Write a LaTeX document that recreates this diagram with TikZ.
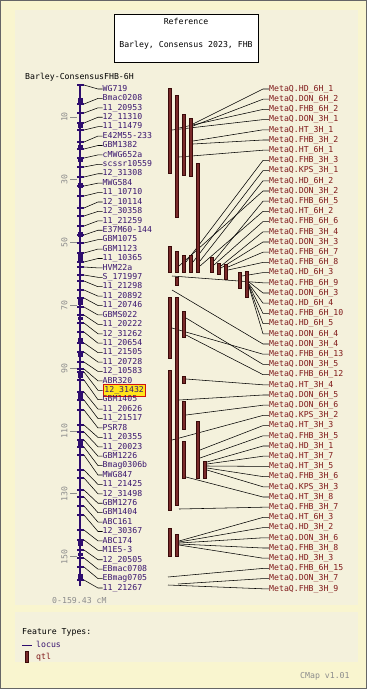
\documentclass[tikz,border=0pt]{standalone}
\usepackage{fontspec}
\newfontfamily\pixfont{DejaVu Sans Mono}
\definecolor{outerbg}{HTML}{F9F5CF}
\definecolor{innerbg}{HTML}{F4F1DC}
\definecolor{chromc}{HTML}{2E0D6E}
\definecolor{lablc}{HTML}{3A1670}
\definecolor{qtlc}{HTML}{7A2A2A}
\definecolor{qtld}{HTML}{3A0A0A}
\definecolor{qlabc}{HTML}{801A1A}
\definecolor{axisc}{HTML}{8C8C8C}
\definecolor{hiy}{HTML}{FFE51A}
\definecolor{hir}{HTML}{D01010}
\begin{document}
\begin{tikzpicture}[x=1pt,y=-1pt,
 txt/.style={font=\pixfont\fontsize{8.2}{9}\selectfont, inner sep=0pt, text height=6pt, text depth=1.5pt},
 leftlab/.style={txt, anchor=west, text=lablc},
 rightlab/.style={txt, anchor=west, text=qlabc},
 plain/.style={},
 hilite/.style={fill=hiy, draw=hir, line width=0.8pt, inner xsep=1.5pt, inner ysep=2pt},
 conn/.style={black, line width=0.55pt},
 qtlbar/.style={fill=qtlc, draw=qtld, line width=0.5pt},
 axislab/.style={txt, text=axisc, rotate=90, anchor=center},
]
\useasboundingbox (0,0) rectangle (367,689);
% backgrounds
\fill[outerbg] (0,0) rectangle (367,689);
\draw[black!60, line width=0.8pt] (0.4,0.4) rectangle (366.6,688.6);
\fill[innerbg] (15,10) rectangle (358,605);
\fill[innerbg] (15,612) rectangle (358,662);

% title
\node[draw=black, fill=white, minimum width=144pt, minimum height=48pt, line width=0.8pt, inner sep=0pt] (title) at (186,38) {};
\node[txt] (t1) at (186,22) {Reference};
\node[txt] (t2) at (186,45) {Barley, Consensus 2023, FHB};
\node[txt, anchor=west] (mapname) at (25,77) {Barley-ConsensusFHB-6H};

% axis
\foreach \c in {10,30,50,70,90,110,130,150} {
  \pgfmathsetmacro\yy{85.6+3.14*\c}
  \coordinate (ta\c) at (70,\yy);
  \coordinate (tb\c) at (77,\yy);
  \draw[axisc, line width=0.8pt] (ta\c) -- (tb\c);
  \node[axislab] (ax\c) at (65,\yy) {\c};
}
\node[txt, anchor=west, text=axisc] (range) at (52,601) {0-159.43 cM};

% chromosome
\coordinate (ctop) at (80,85);
\coordinate (cbot) at (80,586);
\draw[chromc, line width=2pt] (ctop) -- (cbot);
\foreach \a/\b in {98/105,124/128,145/150,158/162,183/188,232/237,253/263,298/305,317/320,338/342,353/357,372/378,393/400,441/447,540/546,553/556,574/580} {
  \fill[chromc] (77.5,\a) rectangle (82.5,\b);
}

% left markers
\foreach \i/\my/\t in {1/85/WG719,2/104/Bmac0208,3/113/11\_20953,4/123/12\_11310,5/130/11\_11479,6/142/E42M55-233,7/149/GBM1382,8/158/cMWG652a,9/167/scssr10559,10/177/12\_31308,11/186/MWG584,12/196/11\_10710,13/208/12\_10114,14/216/12\_30358,15/226/11\_21259,16/235/E37M60-144,17/243/GBM1075,18/253/GBM1123,19/262/11\_10365,20/267/HVM22a,21/275/S\_171997,22/281/11\_21298,23/290/11\_20892,24/298/11\_20746,25/307/GBMS022,26/315/11\_20222,27/323/12\_31262,28/332/11\_20654,29/343/11\_21505,30/352/11\_20728,31/362/12\_10583,32/369/ABR320,33/372/12\_31432,34/380/GBM1405,35/392/11\_20626,36/400/11\_21517,37/410/PSR78,38/425/11\_20355,39/432/11\_20023,40/440/GBM1226,41/447/Bmag0306b,42/455/MWG847,43/470/11\_21425,44/478/12\_31498,45/490/GBM1276,46/497/GBM1404,47/506/ABC161,48/515/12\_30367,49/530/ABC174,50/540/M1E5-3,51/550/12\_20505,52/558/EBmac0708,53/567/EBmag0705,54/580/11\_21267} {
  \pgfmathsetmacro\ly{89+(\i-1)*9.415}
  \fill[chromc] (76.5,\my-0.8) rectangle (83.5,\my+0.8);
  \coordinate (p\i) at (84,\my);
  \coordinate (b\i) at (98,\ly);
  \ifnum\i=33 \def\hl{hilite}\else\def\hl{plain}\fi
  \node[leftlab,\hl] (m\i) at (102.5,\ly) {\t};
  \draw[conn] (p\i) -- (b\i) -- (m\i.west);
}

% qtl connectors
\foreach \i/\sx/\sy/\t in {1/193/124/HD\_6H\_1,2/193/126/DON\_6H\_2,3/179/128/FHB\_6H\_2,4/172/130/DON\_3H\_1,5/193/141/HT\_3H\_1,6/193/144/FHB\_3H\_2,7/179/157/HT\_6H\_1,8/186/262/FHB\_3H\_3,9/193/262/KPS\_3H\_1,10/200/261/HD\_6H\_2,11/179/266/DON\_3H\_2,12/214/261/FHB\_6H\_5,13/200/266/HT\_6H\_2,14/214/265/FHB\_6H\_6,15/221/266/FHB\_3H\_4,16/221/268/DON\_3H\_3,17/228/267/FHB\_6H\_7,18/228/270/FHB\_6H\_8,19/242/276/HD\_6H\_3,20/172/276/FHB\_6H\_9,21/249/282/DON\_6H\_3,22/249/284/HD\_6H\_4,23/249/285/FHB\_6H\_10,24/249/286/HD\_6H\_5,25/249/287/DON\_6H\_4,26/172/290/DON\_3H\_4,27/172/328/FHB\_6H\_13,28/186/318/DON\_3H\_5,29/186/335/FHB\_6H\_12,30/186/379/HT\_3H\_4,31/179/400/DON\_6H\_5,32/186/415/DON\_6H\_6,33/172/440/KPS\_3H\_2,34/200/450/HT\_3H\_3,35/200/458/FHB\_3H\_5,36/207/462/HD\_3H\_1,37/207/464/HT\_3H\_7,38/207/466/HT\_3H\_5,39/207/468/FHB\_3H\_6,40/207/470/KPS\_3H\_3,41/186/477/HT\_3H\_8,42/179/509/FHB\_3H\_7,43/179/541/HT\_6H\_3,44/179/542/HD\_3H\_2,45/179/543/DON\_3H\_6,46/179/544/FHB\_3H\_8,47/179/545/HD\_3H\_3,48/168/577/FHB\_6H\_15,49/178/584/DON\_3H\_7,50/168/585/FHB\_3H\_9} {
  \pgfmathsetmacro\ly{89+(\i-1)*10.2}
  \node[rightlab] (q\i) at (269,\ly) {MetaQ.\t};
  \coordinate (s\i) at (\sx,\sy);
  \coordinate (e\i) at (263,\ly);
  \draw[conn] (s\i) -- (e\i) -- (q\i.west);
}

% qtl bars
\foreach \x/\a/\b in {168/88/173,175/95/217,182/114/175,189/118/176,196/163/272,168/246/272,175/251/272,182/255/272,189/255/272,210/257/272,217/263/274,224/264/279,238/272/288,245/271/297,175/277/285,168/297/358,175/297/505,182/311/337,168/370/510,182/376/383,182/401/429,196/421/478,182/441/478,203/461/478,168/528/556,175/534/556} {
  \draw[qtlbar] (\x,\a) rectangle (\x+3.6,\b);
}

% legend
\node[txt, anchor=west] (ft) at (22,632) {Feature Types:};
\coordinate (lg1) at (22,645);
\coordinate (lg2) at (32,645);
\draw[chromc, line width=1pt] (lg1) -- (lg2);
\node[txt, anchor=west, text=lablc] (lgl) at (36,645) {locus};
\draw[qtlbar] (25,651) rectangle (28.6,662);
\node[txt, anchor=west, text=qlabc] (lgq) at (36,657) {qtl};
\node[txt, anchor=west, text=axisc] (cmap) at (300,676) {CMap v1.01};
\end{tikzpicture}
\end{document}
